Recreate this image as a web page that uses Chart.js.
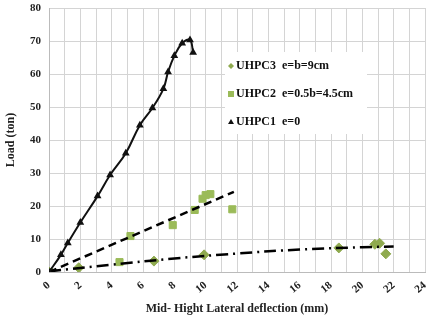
<!DOCTYPE html>
<html>
<head>
<meta charset="utf-8">
<script src="https://cdn.jsdelivr.net/npm/chart.js@4/dist/chart.umd.min.js"></script>
<style>
  html, body { margin: 0; padding: 0; background: #fff; }
  #wrap { width: 431px; height: 320px; }
</style>
</head>
<body>
<div id="wrap"><canvas id="loadChart" width="431" height="320"></canvas></div>
<script>
// Load vs mid-height lateral deflection for the three UHPC columns
const seriesNames = ['UHPC3  e=b=9cm', 'UHPC2  e=0.5b=4.5cm', 'UHPC1  e=0'];

// UHPC1, e=0 (black triangles, smooth line)
const uhpc1X = [0, 0.76, 1.2, 2.0, 3.1, 3.9, 4.9, 5.8, 6.6, 7.3, 7.6, 8.0, 8.5, 9.0, 9.2];
const uhpc1Y = [0, 5.2, 8.8, 15, 23, 29.4, 36, 44.5, 49.7, 55.5, 60.6, 65.5, 69.3, 70.3, 66.5];

// UHPC2, e=4.5cm (green squares)
const uhpc2X = [0, 4.5, 5.2, 7.9, 9.3, 9.8, 10.0, 10.3, 11.7];
const uhpc2Y = [0, 3.0, 10.9, 14.2, 18.8, 22.2, 23.3, 23.6, 19.0];

// UHPC3, e=9cm (green diamonds)
const uhpc3X = [0, 1.9, 6.7, 9.9, 18.5, 20.8, 21.1, 21.5];
const uhpc3Y = [0, 1.3, 3.3, 5.2, 7.3, 8.4, 8.7, 5.5];

// trend lines
const trend2X = [0, 11.8];
const trend2Y = [0, 24.3];
const trend3X = [0, 4, 8, 12, 16, 20, 22];
const trend3Y = [0.2, 2.2, 4.1, 5.6, 6.8, 7.5, 7.7];

const xTicks = [0, 2, 4, 6, 8, 10, 12, 14, 16, 18, 20, 22, 24];
const yTicks = [0, 10, 20, 30, 40, 50, 60, 70, 80];

function pts(xs, ys) {
    return xs.map((x, i) => ({ x: x, y: ys[i] }));
}

const green = '#9bbb59';
const serif = "'Liberation Serif', 'DejaVu Serif', serif";

// legend drawn inside the plot area, like the Excel one
const innerLegend = {
    id: 'innerLegend',
    afterDraw(chart) {
        const c = chart.ctx;
        const bx = 225, by = 52, bw = 142, bh = 82;
        c.save();
        c.fillStyle = '#fff';
        c.fillRect(bx, by, bw, bh);
        c.font = 'bold 12px ' + serif;
        c.textBaseline = 'middle';
        const rows = [
            { y: 66, name: seriesNames[0], shape: 'diamond', col: '#8faa4f' },
            { y: 94, name: seriesNames[1], shape: 'square', col: green },
            { y: 122, name: seriesNames[2], shape: 'triangle', col: '#111' }
        ];
        rows.forEach(r => {
            const mx = 231;
            c.fillStyle = r.col;
            c.beginPath();
            if (r.shape === 'diamond') {
                c.moveTo(mx, r.y - 3); c.lineTo(mx + 3, r.y); c.lineTo(mx, r.y + 3); c.lineTo(mx - 3, r.y);
            } else if (r.shape === 'square') {
                c.rect(mx - 3, r.y - 3, 6, 6);
            } else {
                c.moveTo(mx, r.y - 3); c.lineTo(mx + 3, r.y + 2); c.lineTo(mx - 3, r.y + 2);
            }
            c.closePath();
            c.fill();
            c.fillStyle = '#111';
            c.fillText(r.name, 236, r.y);
        });
        c.restore();
    }
};

const ctx = document.getElementById('loadChart').getContext('2d');

new Chart(ctx, {
    type: 'line',
    data: {
        datasets: [
            {
                label: 'trend UHPC2',
                data: pts(trend2X, trend2Y),
                borderColor: '#000',
                borderWidth: 2.5,
                borderDash: [8, 5],
                pointRadius: 0,
                fill: false,
                order: 1
            },
            {
                label: 'trend UHPC3',
                data: pts(trend3X, trend3Y),
                borderColor: '#000',
                borderWidth: 2.5,
                borderDash: [12, 5, 2, 5],
                pointRadius: 0,
                tension: 0.4,
                fill: false,
                order: 1
            },
            {
                label: seriesNames[0],
                data: pts(uhpc3X, uhpc3Y),
                showLine: false,
                pointStyle: 'rectRot',
                pointRadius: 5,
                pointBackgroundColor: '#8faa4f',
                pointBorderColor: '#8faa4f',
                order: 2
            },
            {
                label: seriesNames[1],
                data: pts(uhpc2X, uhpc2Y),
                showLine: false,
                pointStyle: 'rect',
                pointRadius: 5,
                pointBackgroundColor: green,
                pointBorderColor: green,
                order: 2
            },
            {
                label: seriesNames[2],
                data: pts(uhpc1X, uhpc1Y),
                borderColor: '#111',
                borderWidth: 2,
                tension: 0.4,
                pointStyle: 'triangle',
                pointRadius: 2.5,
                pointBackgroundColor: '#111',
                pointBorderColor: '#111',
                fill: false,
                order: 0
            }
        ]
    },
    options: {
        responsive: false,
        animation: false,
        layout: { padding: { top: 8, right: 6, left: 0, bottom: 0 } },
        plugins: {
            legend: { display: false },
            tooltip: { enabled: false }
        },
        scales: {
            x: {
                type: 'linear',
                min: 0,
                max: 24,
                afterFit: s => { s.height = 48; s.paddingLeft = 0; s.paddingRight = 0; },
                grid: { color: '#d4d4d4', drawTicks: false },
                border: { color: '#bbb' },
                ticks: {
                    stepSize: 1,
                    autoSkip: false,
                    padding: 7,
                    color: '#222',
                    font: { family: serif, size: 11, weight: 'bold' },
                    callback: v => xTicks.includes(v) ? String(v) : ''
                },
                title: {
                    display: true,
                    text: 'Mid- Hight Lateral deflection (mm)',
                    color: '#222',
                    padding: { top: 6 },
                    font: { family: serif, size: 12, weight: 'bold' }
                }
            },
            y: {
                min: 0,
                max: 80,
                afterFit: s => { s.width = 49; s.paddingTop = 0; s.paddingBottom = 0; },
                grid: { color: '#d4d4d4', drawTicks: false },
                border: { color: '#bbb' },
                ticks: {
                    stepSize: 10,
                    padding: 8,
                    color: '#222',
                    font: { family: serif, size: 11, weight: 'bold' },
                    callback: v => yTicks.includes(v) ? String(v) : ''
                },
                title: {
                    display: true,
                    text: 'Load (ton)',
                    color: '#222',
                    padding: { bottom: 2 },
                    font: { family: serif, size: 12, weight: 'bold' }
                }
            }
        }
    },
    plugins: [innerLegend]
});
</script>
</body>
</html>
